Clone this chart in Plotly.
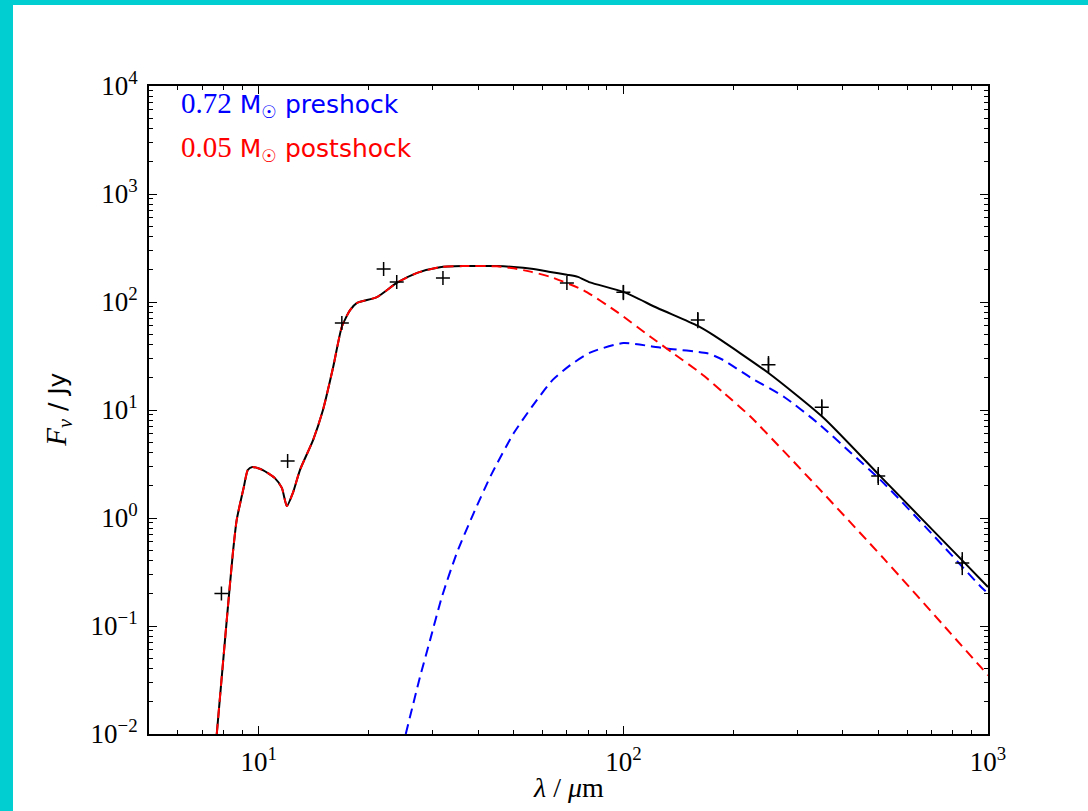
import plotly.graph_objects as go

# ---------------- data ----------------
# postshock model (red dashed)
red_lam = [7.67, 8.17, 8.49, 8.7, 9.1, 9.33, 9.6, 10.26, 11.07, 11.57, 11.94, 12.4, 12.97,
           14.1, 15.0, 16.0, 16.9, 17.8, 18.6, 21.1, 23.9, 27.2, 31.4, 36.3, 45, 50, 56, 63,
           77.6, 96, 118.6, 137, 163, 189, 223, 340, 518, 791, 1000]
red_F = [0.01, 0.114, 0.47, 0.96, 1.94, 2.78, 2.97, 2.78, 2.34, 1.9, 1.29, 1.7, 2.78,
         5.3, 10, 25, 59, 84, 98, 111, 150, 186, 210, 215, 214, 205, 190, 171,
         129, 81, 47.7, 33.5, 21.9, 14.3, 8.7, 1.95, 0.42, 0.085, 0.035]

# preshock model (blue dashed)
blue_lam = [25.3, 27.7, 29.5, 31.8, 34.9, 38.8, 43.6, 50.0, 56.1, 64, 71.5, 81, 100, 118.6,
            131, 170, 188, 223, 276, 341, 421, 518, 700, 957, 1000]
blue_F = [0.01, 0.034, 0.074, 0.187, 0.471, 1.10, 2.59, 6.08, 10.7, 19, 26, 34, 41.7, 39,
          37.1, 33.5, 29, 20, 13.2, 7.6, 4.0, 2.1, 0.72, 0.23, 0.2]

# total model (black solid)
black_lam = [7.67, 8.17, 8.49, 8.7, 9.1, 9.33, 9.6, 10.26, 11.07, 11.57, 11.94, 12.4, 12.97,
             14.1, 15.0, 16.0, 16.9, 17.8, 18.6, 21.1, 23.9, 27.2, 31.4, 36.3, 45,
             50, 56, 63, 70, 75, 81, 100, 124, 160, 177, 250, 352, 500, 859, 1000]
black_F = [0.01, 0.114, 0.47, 0.96, 1.94, 2.78, 2.97, 2.78, 2.34, 1.9, 1.29, 1.7, 2.78,
           5.3, 10, 25, 59, 84, 98, 111, 150, 186, 210, 215, 215,
           211, 203, 190, 179, 171, 152, 124, 88, 60, 49, 22, 8.6, 2.55, 0.39, 0.23]

# observed photometry (crosses)
obs_lam = [7.9, 12.0, 16.9, 22, 23.9, 32, 70, 100, 160, 250, 350, 500, 850]
obs_F = [0.2, 3.37, 64, 202, 153, 167, 150, 123, 68, 26.3, 10.6, 2.45, 0.383]
obs_err_plus = [0, 0, 0, 0, 0, 0, 0, 21, 13, 5.3, 2.0, 0.52, 0.10]
obs_err_minus = [0, 0, 0, 0, 0, 0, 0, 19, 11, 4.3, 1.8, 0.43, 0.087]

y_tickvals = [1e-2, 1e-1, 1e0, 1e1, 1e2, 1e3, 1e4]
y_ticktext = ["10<sup>\u22122</sup>", "10<sup>\u22121</sup>", "10<sup>0</sup>", "10<sup>1</sup>",
              "10<sup>2</sup>", "10<sup>3</sup>", "10<sup>4</sup>"]
x_tickvals = [10, 100, 1000]
x_ticktext = ["10<sup>1</sup>", "10<sup>2</sup>", "10<sup>3</sup>"]

x_minor = [k * 10 ** n for n in range(0, 3) for k in range(2, 10)]
y_minor = [k * 10.0 ** n for n in range(-2, 4) for k in range(2, 10)]

SERIF = "Liberation Serif"
SANS = "DejaVu Sans"
CYAN = "#00CED1"

fig = go.Figure()
fig.add_trace(go.Scatter(x=black_lam, y=black_F, mode="lines",
                         line=dict(color="black", width=2, shape="spline", smoothing=0.6)))
fig.add_trace(go.Scatter(x=blue_lam, y=blue_F, mode="lines",
                         line=dict(color="#0000ff", width=2, dash="10px,6px", shape="spline", smoothing=0.6)))
fig.add_trace(go.Scatter(x=red_lam, y=red_F, mode="lines",
                         line=dict(color="#ff0000", width=2, dash="10px,6px", shape="spline", smoothing=0.6)))
fig.add_trace(go.Scatter(x=obs_lam, y=obs_F, mode="markers",
                         marker=dict(symbol="cross-thin", size=10, color="black",
                                     line=dict(width=1.5, color="black")),
                         error_y=dict(type="data", array=obs_err_plus, arrayminus=obs_err_minus,
                                      symmetric=False, color="black", thickness=1.5, width=0)))

axis_common = dict(
    type="log", showline=True, linecolor="black", linewidth=2, mirror="allticks",
    ticks="inside", ticklen=8, tickwidth=1.2, tickcolor="black", showgrid=False, zeroline=False,
    tickmode="array", tickfont=dict(family=SERIF, size=27, color="black"),
    minor=dict(ticks="inside", ticklen=4, tickwidth=1, tickcolor="black", showgrid=False,
               tickmode="array"),
)

fig.update_xaxes(**axis_common, range=[0.69897, 3], tickvals=x_tickvals, ticktext=x_ticktext,
                 ticklabelstandoff=3)
fig.update_xaxes(minor_tickvals=x_minor)
fig.update_yaxes(**axis_common, range=[-2, 4], tickvals=y_tickvals, ticktext=y_ticktext,
                 ticklabelstandoff=4)
fig.update_yaxes(minor_tickvals=y_minor)

fig.update_layout(
    width=1088, height=811,
    margin=dict(l=149, r=100, t=86, b=77, autoexpand=False),
    paper_bgcolor="white", plot_bgcolor="white", showlegend=False,
    shapes=[
        # cyan frame strips of the original screenshot (left and top)
        dict(type="rect", xref="paper", yref="paper", x0=-0.2, x1=-0.1621,
             y0=-0.3, y1=1.3, fillcolor=CYAN, line=dict(width=0), layer="below"),
        dict(type="rect", xref="paper", yref="paper", x0=-0.2, x1=1.3,
             y0=1.125, y1=1.3, fillcolor=CYAN, line=dict(width=0), layer="below"),
    ],
    annotations=[
        dict(xref="paper", yref="paper", x=0.0358, y=0.9707, xanchor="left", yanchor="middle",
             showarrow=False, font=dict(family=SANS, size=25, color="#0000ff"),
             text='<span style="font-family:Liberation Serif;font-size:29px">0.72</span> M<sub>\u2609</sub> preshock'),
        dict(xref="paper", yref="paper", x=0.0358, y=0.9043, xanchor="left", yanchor="middle",
             showarrow=False, font=dict(family=SANS, size=25, color="#ff0000"),
             text='<span style="font-family:Liberation Serif;font-size:29px">0.05</span> M<sub>\u2609</sub> postshock'),
        dict(xref="paper", yref="paper", x=0.5, y=-0.0818, xanchor="center", yanchor="middle",
             showarrow=False, font=dict(family=SERIF, size=28, color="black"),
             text="<i>\u03bb</i> / <i>\u03bc</i>m"),
        dict(xref="paper", yref="paper", x=-0.1087, y=0.5, xanchor="center", yanchor="middle",
             showarrow=False, textangle=-90, font=dict(family=SANS, size=25, color="black"),
             text='<span style="font-family:Liberation Serif;font-size:29px"><i>F</i><sub><i>\u03bd</i></sub></span> / Jy'),
    ],
)

fig.write_html("out.html", config={"displayModeBar": False},
               post_script="document.body.style.margin='0px';")
